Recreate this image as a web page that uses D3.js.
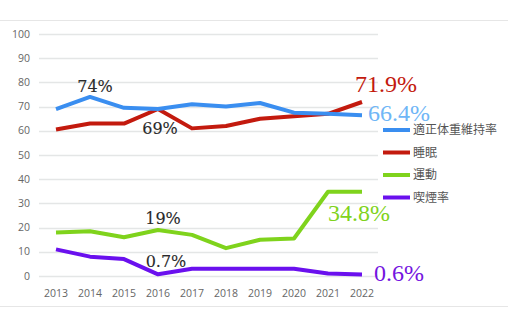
<!DOCTYPE html>
<html>
<head>
<meta charset="utf-8">
<script src="https://cdn.jsdelivr.net/npm/d3@7"></script>
<style>
  html, body { margin: 0; padding: 0; background: #fff; }
  svg { display: block; }
</style>
</head>
<body>
<div id="chart"></div>
<script>
// chart data
const years = [2013, 2014, 2015, 2016, 2017, 2018, 2019, 2020, 2021, 2022];
const seriesNames = ['適正体重維持率', '睡眠', '運動', '喫煙率'];
const weightValues = [69, 74, 69.5, 69, 71, 70, 71.5, 67.5, 67, 66.4];
const sleepValues = [60.5, 63, 63, 69, 61, 62, 65, 66, 67, 71.9];
const exerciseValues = [18, 18.5, 16, 19, 17, 11.5, 15, 15.5, 34.8, 34.8];
const smokingValues = [11, 8, 7, 0.7, 3, 3, 3, 3, 1, 0.6];
const yTicks = [0, 10, 20, 30, 40, 50, 60, 70, 80, 90, 100];

// annotations: [series index, year index, text]
const blackNotes = [[0, 1, '74%'], [1, 3, '69%'], [2, 3, '19%'], [3, 3, '0.7%']];
const endNotes = ['66.4%', '71.9%', '34.8%', '0.6%'];

const width = 508, height = 328;
const colors = ['#3a8ef0', '#c31a0e', '#7fd31c', '#6a10ee'];
const endColors = ['#6fb6f6', '#c31a0e', '#7fd31c', '#7414e0'];

const svg = d3.select('#chart').append('svg')
  .attr('width', width)
  .attr('height', height);

// frame lines top and bottom
svg.append('line').attr('x1', 0).attr('x2', width).attr('y1', 20.5).attr('y2', 20.5)
  .attr('stroke', '#e6e6e6').attr('stroke-width', 1);
svg.append('line').attr('x1', 0).attr('x2', width).attr('y1', 306.5).attr('y2', 306.5)
  .attr('stroke', '#e6e6e6').attr('stroke-width', 1);

const x = d3.scalePoint().domain(years).range([56, 362]);
const y = d3.scaleLinear().domain([0, 100]).range([276, 34]);

// gridlines
svg.append('g')
  .selectAll('line')
  .data(yTicks)
  .enter()
  .append('line')
  .attr('x1', 39)
  .attr('x2', 378)
  .attr('y1', d => Math.round(y(d)) + 0.5)
  .attr('y2', d => Math.round(y(d)) + 0.5)
  .attr('stroke', '#e4e6e6')
  .attr('stroke-width', 1.5);

const tickFont = '"Open Sans", "Liberation Sans", sans-serif';

// y axis labels
svg.append('g')
  .selectAll('text')
  .data(yTicks)
  .enter()
  .append('text')
  .attr('x', 30)
  .attr('y', d => y(d))
  .attr('dy', '0.35em')
  .attr('text-anchor', 'end')
  .style('font-family', tickFont)
  .style('font-size', '10.5px')
  .style('fill', '#666')
  .text(d => d);

// x axis labels
svg.append('g')
  .selectAll('text')
  .data(years)
  .enter()
  .append('text')
  .attr('x', d => x(d))
  .attr('y', 293)
  .attr('dy', '0.35em')
  .attr('text-anchor', 'middle')
  .style('font-family', tickFont)
  .style('font-size', '10.5px')
  .style('fill', '#666')
  .text(d => d);

const allSeries = [weightValues, sleepValues, exerciseValues, smokingValues];
const line = d3.line()
  .x((d, i) => x(years[i]))
  .y(d => y(d));

// draw bottom-to-top so blue sits over red like the original
[3, 2, 1, 0].forEach(s => {
  svg.append('path')
    .datum(allSeries[s])
    .attr('d', line)
    .attr('fill', 'none')
    .attr('stroke', colors[s])
    .attr('stroke-width', 4)
    .attr('stroke-linejoin', 'round');
});

// black annotations, offsets from their data point
const noteOffsets = [[5, -11], [2, 19], [5, -12], [8, -13]];
svg.append('g')
  .selectAll('text')
  .data(blackNotes)
  .enter()
  .append('text')
  .attr('x', (d, i) => x(years[d[1]]) + noteOffsets[i][0])
  .attr('y', (d, i) => y(allSeries[d[0]][d[1]]) + noteOffsets[i][1])
  .attr('dy', '0.35em')
  .attr('text-anchor', 'middle')
  .style('font-family', '"DejaVu Serif", "Liberation Serif", serif')
  .style('font-size', '16px')
  .style('fill', '#2a2a2a')
  .style('stroke', '#2a2a2a')
  .style('stroke-width', 0.12)
  .text(d => d[2]);

// end-of-line annotations
const endPos = [[368, 113], [355, 84], [328, 213], [374, 273]];
svg.append('g')
  .selectAll('text')
  .data(endNotes)
  .enter()
  .append('text')
  .attr('x', (d, i) => endPos[i][0])
  .attr('y', (d, i) => endPos[i][1])
  .attr('dy', '0.35em')
  .style('font-family', '"Liberation Serif", "DejaVu Serif", serif')
  .style('font-size', '24px')
  .style('fill', (d, i) => endColors[i])
  .text(d => d);

// legend
const legend = svg.append('g')
  .selectAll('g')
  .data(seriesNames)
  .enter()
  .append('g')
  .attr('transform', (d, i) => `translate(383, ${130 + i * 22.5})`);

legend.append('line')
  .attr('x1', 0).attr('x2', 27)
  .attr('stroke', (d, i) => colors[i])
  .attr('stroke-width', 4);

legend.append('text')
  .attr('x', 30)
  .attr('dy', '0.35em')
  .style('font-family', '"Noto Sans CJK JP", sans-serif')
  .style('font-size', '12px')
  .style('fill', '#555')
  .text(d => d);
</script>
</body>
</html>
